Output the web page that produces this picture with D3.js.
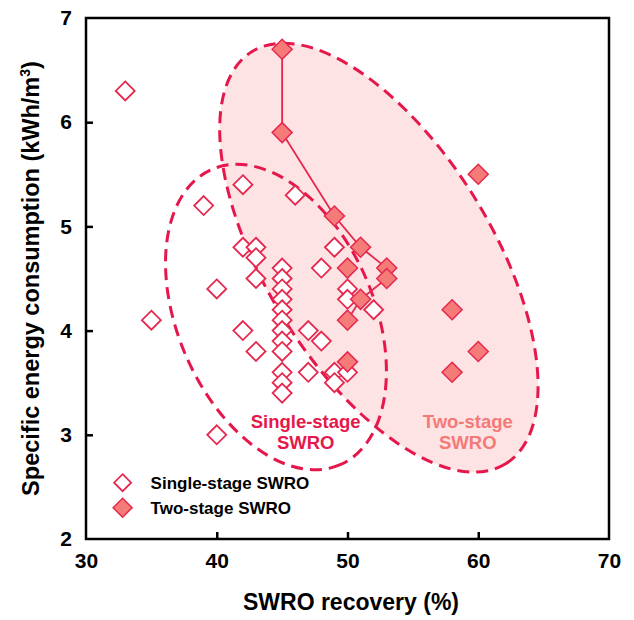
<!DOCTYPE html>
<html>
<head>
<meta charset="utf-8">
<script src="https://cdn.jsdelivr.net/npm/d3@7"></script>
<style>
  body { margin: 0; background: #fff; }
  text { font-family: "Liberation Sans", Arial, sans-serif; font-weight: bold; }
</style>
</head>
<body>
<div id="viewportContainer"></div>
<script>
/* --- data --- */
const singleRecovery = [33, 35, 39, 40, 40, 42, 42, 42, 43, 43, 43, 43,
    45, 45, 45, 45, 45, 45, 45, 45, 45, 45, 45, 45,
    46, 47, 47, 48, 48, 49, 49, 49, 50, 50, 50, 52];
const singleSEC = [6.3, 4.1, 5.2, 4.4, 3.0, 5.4, 4.8, 4.0, 4.8, 4.7, 4.5, 3.8,
    4.6, 4.5, 4.4, 4.3, 4.2, 4.1, 4.0, 3.9, 3.8, 3.6, 3.5, 3.4,
    5.3, 4.0, 3.6, 4.6, 3.9, 4.8, 3.6, 3.5, 4.4, 4.3, 3.6, 4.2];

const twoRecovery = [45, 45, 49, 51, 53, 53, 51, 50, 50, 50, 58, 58, 60, 60];
const twoSEC = [6.7, 5.9, 5.1, 4.8, 4.6, 4.5, 4.3, 4.1, 4.6, 3.7, 4.2, 3.6, 3.8, 5.5];

// one study, points joined by a line
const linkRecovery = [45, 45, 49, 51, 53, 53, 51, 50];
const linkSEC = [6.7, 5.9, 5.1, 4.8, 4.6, 4.5, 4.3, 4.1];

const xTicks = [30, 40, 50, 60, 70];
const yTicks = [2, 3, 4, 5, 6, 7];

/* --- viewport --- */
const viewport = {width: 634, height: 620};
const margin = {top: 18, right: 25, bottom: 81, left: 86};

const colors = {
    dash: "#e5174b",
    marker: "#e6284f",
    fill: "#f47b77",
    zone: "#fde3e3",
    twoText: "#f47a78"
};

// ellipses: centre in data units, semi axes in px, rotation in degrees
const zones = [
    {name: "two", cx: 52.4, cy: 4.70, rx: 242, ry: 113, angle: 58.4, fill: colors.zone},
    {name: "single", cx: 44.53, cy: 4.13, rx: 161, ry: 98, angle: 66.5, fill: "none"}
];

const svg = d3.select("#viewportContainer")
    .append("svg")
    .attr("width", viewport.width)
    .attr("height", viewport.height);

const xScale = d3.scaleLinear().domain([30, 70])
    .range([margin.left, viewport.width - margin.right]);
const yScale = d3.scaleLinear().domain([2, 7])
    .range([viewport.height - margin.bottom, margin.top]);

const diamond = r => `M0,${-r}L${r},0L0,${r}L${-r},0Z`;

/*--- zones ---*/
const zoneG = svg.append("g");
// fill first, outlines after so both dashed lines stay visible
zoneG.selectAll(".zoneFill")
    .data(zones.filter(z => z.fill !== "none"))
    .enter().append("ellipse")
    .attr("class", "zoneFill")
    .attr("transform", z => `translate(${xScale(z.cx)},${yScale(z.cy)}) rotate(${z.angle})`)
    .attr("rx", z => z.rx).attr("ry", z => z.ry)
    .style("fill", z => z.fill);

zoneG.selectAll(".zoneLine")
    .data(zones)
    .enter().append("ellipse")
    .attr("class", "zoneLine")
    .attr("transform", z => `translate(${xScale(z.cx)},${yScale(z.cy)}) rotate(${z.angle})`)
    .attr("rx", z => z.rx).attr("ry", z => z.ry)
    .style("fill", "none")
    .style("stroke", colors.dash)
    .style("stroke-width", 3)
    .style("stroke-dasharray", "12,7");

/*--- zone labels ---*/
const zoneLabels = svg.append("g").style("font-size", "18.5px").attr("text-anchor", "middle");
zoneLabels.append("text").attr("x", xScale(46.8)).attr("y", yScale(3.07))
    .style("fill", colors.dash).text("Single-stage");
zoneLabels.append("text").attr("x", xScale(46.8)).attr("y", yScale(2.86))
    .style("fill", colors.dash).text("SWRO");
zoneLabels.append("text").attr("x", xScale(59.2)).attr("y", yScale(3.07))
    .style("fill", colors.twoText).text("Two-stage");
zoneLabels.append("text").attr("x", xScale(59.2)).attr("y", yScale(2.86))
    .style("fill", colors.twoText).text("SWRO");

/*--- single-stage points ---*/
svg.append("g").selectAll("path")
    .data(singleRecovery.map((x, i) => [x, singleSEC[i]]))
    .enter().append("path")
    .attr("d", diamond(9.5))
    .attr("transform", d => `translate(${xScale(d[0])},${yScale(d[1])})`)
    .style("fill", "#fff")
    .style("stroke", colors.marker)
    .style("stroke-width", 1.8);

/*--- connecting line ---*/
svg.append("path")
    .datum(linkRecovery.map((x, i) => [x, linkSEC[i]]))
    .attr("d", d3.line().x(d => xScale(d[0])).y(d => yScale(d[1])))
    .style("fill", "none")
    .style("stroke", colors.marker)
    .style("stroke-width", 1.8);

/*--- two-stage points ---*/
svg.append("g").selectAll("path")
    .data(twoRecovery.map((x, i) => [x, twoSEC[i]]))
    .enter().append("path")
    .attr("d", diamond(10))
    .attr("transform", d => `translate(${xScale(d[0])},${yScale(d[1])})`)
    .style("fill", colors.fill)
    .style("stroke", colors.marker)
    .style("stroke-width", 1.5);

/*--- axes ---*/
const xAxis = d3.axisBottom(xScale).tickValues(xTicks).tickFormat(d3.format("d"))
    .tickSize(-7).tickPadding(14).tickSizeOuter(0);
const yAxis = d3.axisLeft(yScale).tickValues(yTicks).tickFormat(d3.format("d"))
    .tickSize(-7).tickPadding(14).tickSizeOuter(0);

const xAxisContainer = svg.append("g")
    .attr("transform", "translate(0," + (viewport.height - margin.bottom) + ")")
    .call(xAxis);
const yAxisContainer = svg.append("g")
    .attr("transform", "translate(" + margin.left + ",0)")
    .call(yAxis);

[xAxisContainer, yAxisContainer].forEach(g => {
    g.select(".domain").remove();
    g.selectAll("line").style("stroke", "#000").style("stroke-width", 2.5);
    g.selectAll("text").style("font-size", "21px").style("fill", "#000")
        .style("font-family", "'Liberation Sans', Arial, sans-serif").style("font-weight", "bold");
});
// no inner tick on the frame edges
xAxisContainer.selectAll(".tick").filter(d => d === 30 || d === 70).select("line").remove();
yAxisContainer.selectAll(".tick").filter(d => d === 2 || d === 7).select("line").remove();

/*--- frame ---*/
svg.append("rect")
    .attr("x", margin.left).attr("y", margin.top)
    .attr("width", viewport.width - margin.left - margin.right)
    .attr("height", viewport.height - margin.top - margin.bottom)
    .style("fill", "none").style("stroke", "#000").style("stroke-width", 2.5);

/*--- axis titles ---*/
svg.append("text")
    .attr("text-anchor", "middle")
    .attr("x", 351)
    .attr("y", viewport.height - 10)
    .style("font-size", "23px")
    .text("SWRO recovery (%)");

const yTitle = svg.append("text")
    .attr("text-anchor", "middle")
    .attr("transform", "rotate(-90)")
    .attr("x", -(margin.top + viewport.height - margin.bottom) / 2)
    .attr("y", 39)
    .style("font-size", "23.5px");
yTitle.append("tspan").text("Specific energy consumption (kWh/m");
yTitle.append("tspan").attr("dy", -9).style("font-size", "14px").text("3");
yTitle.append("tspan").attr("dy", 9).text(")");

/*--- legend ---*/
const legend = svg.append("g").attr("transform", "translate(" + xScale(32.8) + "," + yScale(2.54) + ")");
legend.append("path").attr("d", diamond(8.5))
    .style("fill", "#fff").style("stroke", colors.marker).style("stroke-width", 1.8);
legend.append("path").attr("d", diamond(9.5)).attr("transform", "translate(0,25)")
    .style("fill", colors.fill).style("stroke", colors.marker).style("stroke-width", 1.5);
legend.append("text").attr("x", 28).attr("y", 6).style("font-size", "17px").text("Single-stage SWRO");
legend.append("text").attr("x", 28).attr("y", 31).style("font-size", "17px").text("Two-stage SWRO");
</script>
</body>
</html>
